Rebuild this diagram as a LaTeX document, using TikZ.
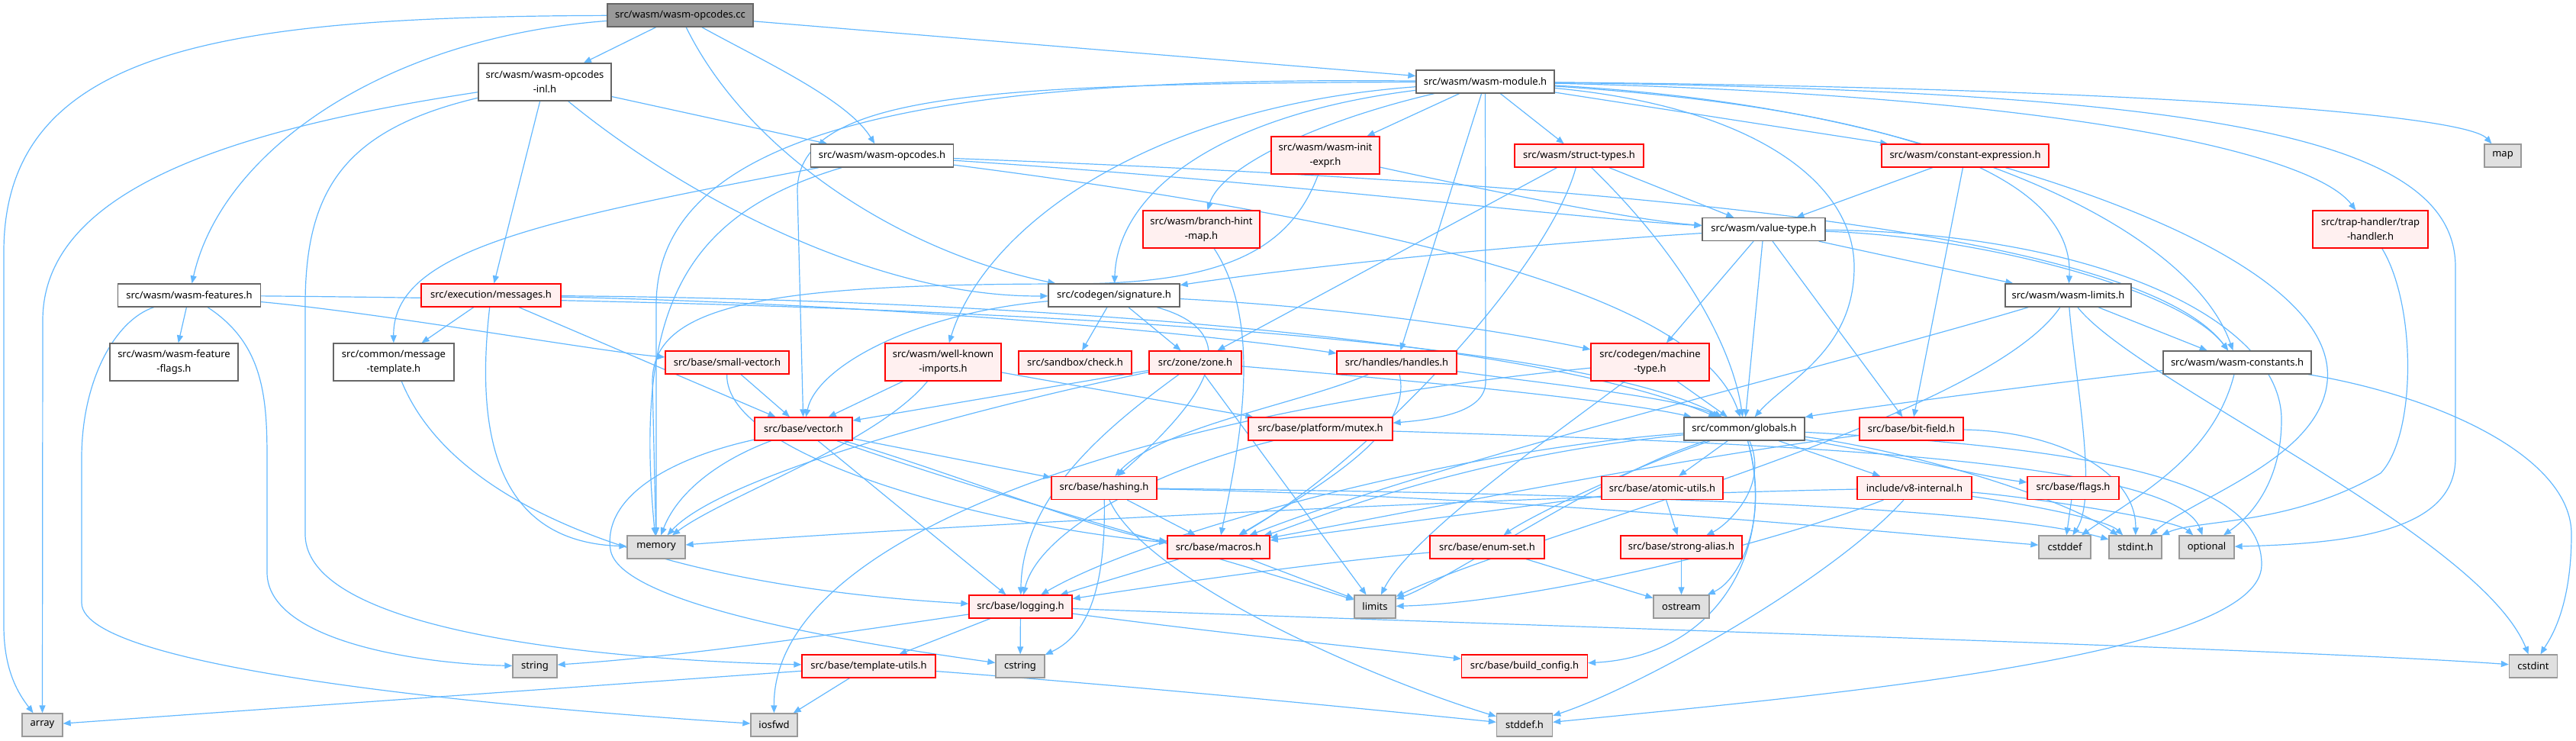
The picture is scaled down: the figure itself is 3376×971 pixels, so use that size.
\documentclass[tikz,border=0pt]{standalone}
\usepackage{fontspec}
\setmainfont{Noto Sans}
\usetikzlibrary{arrows.meta,backgrounds}
\definecolor{ecol}{HTML}{63B8FF}
\definecolor{gfour}{HTML}{666666}
\definecolor{gsix}{HTML}{999999}
\definecolor{rfill}{HTML}{FFF0F0}
\definecolor{rbord}{HTML}{FF0000}
\definecolor{sfill}{HTML}{E0E0E0}
\definecolor{sbord}{HTML}{999999}
\tikzset{
 base/.style={draw, rectangle, inner sep=0pt, minimum height=30pt, font=\fontsize{13}{19}\selectfont, line width=1.3pt, align=center},
 wn/.style={base, fill=white, draw=gfour},
 rn/.style={base, fill=rfill, draw=rbord},
 sn/.style={base, fill=sfill, draw=sbord},
 rootn/.style={base, fill=gsix, draw=gfour},
 tall/.style={minimum height=49pt},
 e/.style={draw=ecol, line width=1.2pt, -{Triangle[length=10pt,width=8pt]}},
}
\begin{document}
\begin{tikzpicture}[x=1pt,y=-1pt]
\useasboundingbox (0,0) rectangle (3376,971);
\node[rootn, minimum width=191pt] (cc) at (891.5,20) {src/wasm/wasm-opcodes.cc};
\node[wn, tall, minimum width=174pt] (inl) at (714,107.5) {src/wasm/wasm-opcodes\\-inl.h};
\node[wn, minimum width=187pt] (opcodes) at (1156,204) {src/wasm/wasm-opcodes.h};
\node[wn, minimum width=181pt] (module) at (1946.5,107) {src/wasm/wasm-module.h};
\node[wn, minimum width=187pt] (features) at (248,387) {src/wasm/wasm-features.h};
\node[wn, tall, minimum width=168pt] (featflags) at (228,474.5) {src/wasm/wasm-feature\\-flags.h};
\node[rn, minimum width=183pt] (messages) at (643.5,387) {src/execution/messages.h};
\node[wn, tall, minimum width=158pt] (msgtmpl) at (516,474.5) {src/common/message\\-template.h};
\node[wn, minimum width=172pt] (signature) at (1460,387) {src/codegen/signature.h};
\node[rn, minimum width=162pt] (smallvec) at (953,475) {src/base/small-vector.h};
\node[rn, tall, minimum width=152pt] (wellknown) at (1236,474.5) {src/wasm/well-known\\-imports.h};
\node[rn, minimum width=148pt] (check) at (1409,475) {src/sandbox/check.h};
\node[rn, minimum width=121pt] (zone) at (1566.5,475) {src/zone/zone.h};
\node[rn, minimum width=128pt] (vector) at (1053,562) {src/base/vector.h};
\node[rn, minimum width=189pt] (mutex) at (1730.5,562) {src/base/platform/mutex.h};
\node[rn, minimum width=138pt] (hashing) at (1447,639.5) {src/base/hashing.h};
\node[rn, tall, minimum width=142pt] (initexpr) at (1737,203.5) {src/wasm/wasm-init\\-expr.h};
\node[rn, tall, minimum width=153pt] (brhint) at (1574.5,300.5) {src/wasm/branch-hint\\-map.h};
\node[rn, minimum width=169pt] (structt) at (2069.5,204) {src/wasm/struct-types.h};
\node[rn, minimum width=219pt] (constexpr) at (2575.5,204) {src/wasm/constant-expression.h};
\node[wn, minimum width=161pt] (valuetype) at (2311.5,300.5) {src/wasm/value-type.h};
\node[sn, minimum width=48pt] (map) at (3280,204) {map};
\node[rn, tall, minimum width=151pt] (traph) at (3106.5,300.5) {src/trap-handler/trap\\-handler.h};
\node[rn, minimum width=157pt] (handles) at (1830.5,475) {src/handles/handles.h};
\node[rn, tall, minimum width=155pt] (machtype) at (2162.5,474.5) {src/codegen/machine\\-type.h};
\node[wn, minimum width=158pt] (globals) at (2286,562) {src/common/globals.h};
\node[rn, minimum width=136pt] (bitfield) at (2505,562) {src/base/bit-field.h};
\node[rn, minimum width=159pt] (atomic) at (2178.5,639.5) {src/base/atomic-utils.h};
\node[rn, minimum width=150pt] (v8int) at (2509,639.5) {include/v8-internal.h};
\node[wn, minimum width=165pt] (limitsW) at (2710.5,387) {src/wasm/wasm-limits.h};
\node[wn, minimum width=194pt] (constants) at (2932,475) {src/wasm/wasm-constants.h};
\node[rn, minimum width=120pt] (flags) at (2717,639.5) {src/base/flags.h};
\node[sn, minimum width=76pt] (memory) at (860,717) {memory};
\node[sn, minimum width=58pt] (string) at (701,873) {string};
\node[sn, minimum width=53pt] (array) at (55.5,950) {array};
\node[rn, minimum width=134pt] (macros) at (1597,717) {src/base/macros.h};
\node[rn, minimum width=135pt] (logging) at (1337.5,795) {src/base/logging.h};
\node[rn, minimum width=175pt] (tmplutils) at (1138.5,873) {src/base/template-utils.h};
\node[sn, minimum width=64pt] (cstring) at (1337,873) {cstring};
\node[sn, minimum width=61pt] (iosfwd) at (1014.5,950) {iosfwd};
\node[rn, minimum width=150pt] (enumset) at (1949,717) {src/base/enum-set.h};
\node[rn, minimum width=159pt] (strongalias) at (2203.5,717) {src/base/strong-alias.h};
\node[sn, minimum width=54pt] (limits) at (1802,795) {limits};
\node[sn, minimum width=73pt] (ostream) at (2203.5,795) {ostream};
\node[rn, minimum width=165pt] (buildcfg) at (1998,873) {src/base/build\_config.h};
\node[sn, minimum width=73pt] (stddef) at (1998,950) {stddef.h};
\node[sn, minimum width=68pt] (cstddef) at (2706,717) {cstddef};
\node[sn, minimum width=69pt] (stdint) at (2798.5,717) {stdint.h};
\node[sn, minimum width=72pt] (optional) at (2892,717) {optional};
\node[sn, minimum width=63pt] (cstdint) at (3320,873) {cstdint};
\begin{scope}[on background layer]
% root
\draw[e] (cc) .. controls (300,22) and (5,60) .. (5,330) -- (5,820) .. controls (5,880) and (25,910) .. (array);
\draw[e] (cc) -- (inl);
\draw[e] (cc) .. controls (500,50) and (290,200) .. (features);
\draw[e] (cc) .. controls (1000,80) and (1110,130) .. (opcodes);
\draw[e] (cc) .. controls (980,200) and (1180,330) .. (signature);
\draw[e] (cc) -- (module);
% inl
\draw[e] (inl) .. controls (300,170) and (56,250) .. (56,420) -- (array);
\draw[e] (inl) .. controls (450,170) and (400,250) .. (400,400) -- (400,700) .. controls (400,830) and (800,865) .. (tmplutils);
\draw[e] (inl) -- (messages);
\draw[e] (inl) .. controls (900,260) and (1150,390) .. (signature);
\draw[e] (inl) -- (opcodes);
% opcodes
\draw[e] (opcodes) .. controls (700,290) and (515,330) .. (msgtmpl);
\draw[e] (opcodes) .. controls (900,280) and (830,400) .. (memory);
\draw[e] (opcodes) .. controls (1700,240) and (2050,285) .. (valuetype);
\draw[e] (opcodes) .. controls (2100,240) and (2800,300) .. (constants);
\draw[e] (opcodes) .. controls (1900,300) and (2230,400) .. (globals);
% module
\draw[e] (module) .. controls (1250,100) and (860,160) .. (860,400) -- (memory);
\draw[e] (module) .. controls (1300,110) and (1045,120) .. (1045,250) -- (vector);
\draw[e] (module) .. controls (1500,140) and (1290,300) .. (wellknown);
\draw[e] (module) .. controls (1600,150) and (1465,250) .. (signature);
\draw[e] (module) .. controls (1720,160) and (1600,220) .. (brhint);
\draw[e] (module) -- (initexpr);
\draw[e] (module) -- (handles);
\draw[e] (module.south) -- (1947,500) .. controls (1947,535) and (1900,548) .. (mutex);
\draw[e] (module) -- (structt);
\draw[e] (module) .. controls (2300,140) and (2430,240) .. (2430,350) .. controls (2430,460) and (2340,500) .. (globals);
\draw[e] (module) -- (constexpr);
\draw[e] (module) .. controls (2450,140) and (2720,220) .. (limitsW);
\draw[e] (module) .. controls (2550,140) and (2870,300) .. (constants);
\draw[e] (module) .. controls (2700,125) and (3030,200) .. (traph);
\draw[e] (module) .. controls (2800,115) and (3230,150) .. (map);
\draw[e] (module) .. controls (2900,120) and (3218,180) .. (3218,350) -- (3218,600) .. controls (3218,690) and (3100,712) .. (optional);
% struct
\draw[e] (structt) -- (zone);
\draw[e] (structt) .. controls (2030,350) and (1800,600) .. (macros);
\draw[e] (structt) .. controls (2200,330) and (2270,450) .. (globals);
\draw[e] (structt) -- (valuetype);
% constexpr
\draw[e] (constexpr) -- (valuetype);
\draw[e] (constexpr) -- (bitfield);
\draw[e] (constexpr) .. controls (2900,300) and (3060,400) .. (3050,500) .. controls (3040,600) and (2880,650) .. (stdint);
% initexpr
\draw[e] (initexpr) .. controls (1950,250) and (2150,290) .. (valuetype);
\draw[e] (initexpr) .. controls (1690,330) and (1600,372) .. (1400,372) .. controls (1000,372) and (855,400) .. (855,500) -- (memory);
% valuetype
\draw[e] (valuetype) .. controls (2000,320) and (1700,350) .. (signature);
\draw[e] (valuetype) -- (machtype);
\draw[e] (valuetype) -- (bitfield);
\draw[e] (valuetype) -- (limitsW);
\draw[e] (valuetype) .. controls (2600,310) and (2860,380) .. (constants);
\draw[e] (valuetype) .. controls (2750,305) and (2990,420) .. (2990,550) .. controls (2990,650) and (2930,690) .. (optional);
\draw[e] (valuetype) -- (globals);
% limitsW
\draw[e] (limitsW) -- (constants);
\draw[e] (limitsW) .. controls (2800,500) and (3250,700) .. (cstdint);
\draw[e] (limitsW) .. controls (2400,480) and (1900,600) .. (macros);
\draw[e] (limitsW) .. controls (2720,500) and (2750,650) .. (cstddef);
\draw[e] (limitsW) .. controls (2600,550) and (2000,700) .. (limits);
% constants
\draw[e] (constants) .. controls (2700,500) and (2400,540) .. (globals);
\draw[e] (constants) .. controls (3200,520) and (3370,600) .. (3370,700) .. controls (3370,800) and (3340,840) .. (cstdint);
\draw[e] (constants) .. controls (2900,600) and (2800,650) .. (cstddef);
% traph
\draw[e] (traph) .. controls (3167,400) and (3167,570) .. (3120,620) .. controls (3000,690) and (2880,680) .. (stdint);
% handles
\draw[e] (handles) .. controls (1700,530) and (1520,560) .. (hashing);
\draw[e] (handles) .. controls (2000,500) and (2200,520) .. (globals);
\draw[e] (handles) .. controls (1850,560) and (1760,620) .. (macros);
% machtype
\draw[e] (machtype) -- (globals);
\draw[e] (machtype) .. controls (2050,560) and (1850,700) .. (limits);
\draw[e] (machtype) .. controls (1500,540) and (1013,700) .. (iosfwd);
% signature
\draw[e] (signature) -- (check);
\draw[e] (signature) -- (zone);
\draw[e] (signature) .. controls (1200,410) and (1070,480) .. (vector);
\draw[e] (signature) .. controls (1800,405) and (2000,440) .. (machtype);
\draw[e] (signature) .. controls (1650,440) and (1560,540) .. (hashing);
% zone
\draw[e] (zone) -- (vector);
\draw[e] (zone) .. controls (1300,530) and (950,620) .. (memory);
\draw[e] (zone) .. controls (1450,560) and (1340,650) .. (logging);
\draw[e] (zone) -- (limits);
\draw[e] (zone) .. controls (1750,490) and (2100,520) .. (globals);
% wellknown
\draw[e] (wellknown) -- (vector);
\draw[e] (wellknown) -- (mutex);
\draw[e] (wellknown) .. controls (1150,580) and (950,650) .. (memory);
% smallvec
\draw[e] (smallvec) -- (vector);
\draw[e] (smallvec) .. controls (950,600) and (1300,690) .. (macros);
% messages
\draw[e] (messages) -- (msgtmpl);
\draw[e] (messages) .. controls (625,550) and (640,710) .. (memory);
\draw[e] (messages) -- (vector);
\draw[e] (messages) .. controls (1200,400) and (1600,440) .. (handles);
\draw[e] (messages) .. controls (1300,392) and (2000,440) .. (globals);
% msgtmpl
\draw[e] (msgtmpl) .. controls (600,680) and (900,770) .. (logging);
% features
\draw[e] (features) -- (featflags);
\draw[e] (features) .. controls (345,450) and (350,520) .. (350,600) -- (350,750) .. controls (350,840) and (550,870) .. (string);
\draw[e] (features) .. controls (150,420) and (107,500) .. (107,600) -- (107,790) .. controls (107,880) and (700,930) .. (iosfwd);
\draw[e] (features) .. controls (500,410) and (780,460) .. (smallvec);
\draw[e] (features) .. controls (800,392) and (2000,410) .. (globals);
% vector
\draw[e] (vector) .. controls (950,600) and (890,640) .. (memory);
\draw[e] (vector) -- (logging);
\draw[e] (vector) .. controls (1300,650) and (1600,730) .. (limits);
\draw[e] (vector) -- (hashing);
\draw[e] (vector) .. controls (1250,620) and (1450,700) .. (macros);
\draw[e] (vector) .. controls (880,600) and (790,650) .. (800,720) .. controls (810,790) and (1100,840) .. (cstring);
% hashing
\draw[e] (hashing) -- (macros);
\draw[e] (hashing) .. controls (1449,760) and (1430,830) .. (cstring);
\draw[e] (hashing) .. controls (1500,760) and (1800,890) .. (stddef);
\draw[e] (hashing) .. controls (2000,645) and (2600,660) .. (stdint);
\draw[e] (hashing) .. controls (2000,650) and (2500,700) .. (cstddef);
% mutex
\draw[e] (mutex) .. controls (1500,620) and (1360,700) .. (logging);
\draw[e] (mutex) .. controls (2300,580) and (2850,600) .. (optional);
% globals
\draw[e] (globals) -- (atomic);
\draw[e] (globals) -- (v8int);
\draw[e] (globals) .. controls (2500,600) and (2600,625) .. (flags);
\draw[e] (globals) .. controls (2120,620) and (2000,680) .. (enumset);
\draw[e] (globals) .. controls (2320,640) and (2260,690) .. (strongalias);
\draw[e] (globals) .. controls (2100,620) and (1900,760) .. (limits);
\draw[e] (globals) .. controls (2320,680) and (2280,760) .. (ostream);
\draw[e] (globals) .. controls (2330,720) and (2250,860) .. (buildcfg);
\draw[e] (globals) .. controls (1900,600) and (1700,690) .. (macros);
\draw[e] (globals) .. controls (1900,590) and (1500,700) .. (logging);
\draw[e] (globals) .. controls (2500,590) and (2700,650) .. (stdint);
\draw[e] (globals) .. controls (2800,590) and (2964,640) .. (2964,740) .. controls (2964,860) and (2400,910) .. (stddef);
% v8int
\draw[e] (v8int) .. controls (2000,650) and (1200,690) .. (memory);
\draw[e] (v8int) .. controls (2300,720) and (2000,790) .. (limits);
\draw[e] (v8int) .. controls (2400,760) and (2150,900) .. (stddef);
\draw[e] (v8int) .. controls (2650,660) and (2760,680) .. (stdint);
\draw[e] (v8int) .. controls (2650,650) and (2850,680) .. (optional);
% atomic
\draw[e] (atomic) -- (macros);
\draw[e] (atomic) -- (strongalias);
% bitfield
\draw[e] (bitfield) .. controls (2200,600) and (1800,680) .. (macros);
\draw[e] (bitfield) .. controls (2700,565) and (2800,620) .. (stdint);
% enumset
\draw[e] (enumset) .. controls (1700,740) and (1500,770) .. (logging);
\draw[e] (enumset) -- (ostream);
% misc
\draw[e] (strongalias) -- (ostream);
\draw[e] (flags) -- (cstddef);
\draw[e] (tmplutils) -- (array);
\draw[e] (tmplutils) -- (iosfwd);
\draw[e] (tmplutils) .. controls (1500,900) and (1800,930) .. (stddef);
\draw[e] (logging) -- (tmplutils);
\draw[e] (logging) -- (cstring);
\draw[e] (logging) .. controls (1100,830) and (900,860) .. (string);
\draw[e] (logging) .. controls (1600,830) and (1800,850) .. (buildcfg);
\draw[e] (logging) .. controls (2000,820) and (3000,850) .. (cstdint);
\draw[e] (macros) -- (logging);
\draw[e] (macros) -- (limits);
\draw[e] (brhint) .. controls (1660,430) and (1620,600) .. (macros);
\end{scope}
\end{tikzpicture}
\end{document}
